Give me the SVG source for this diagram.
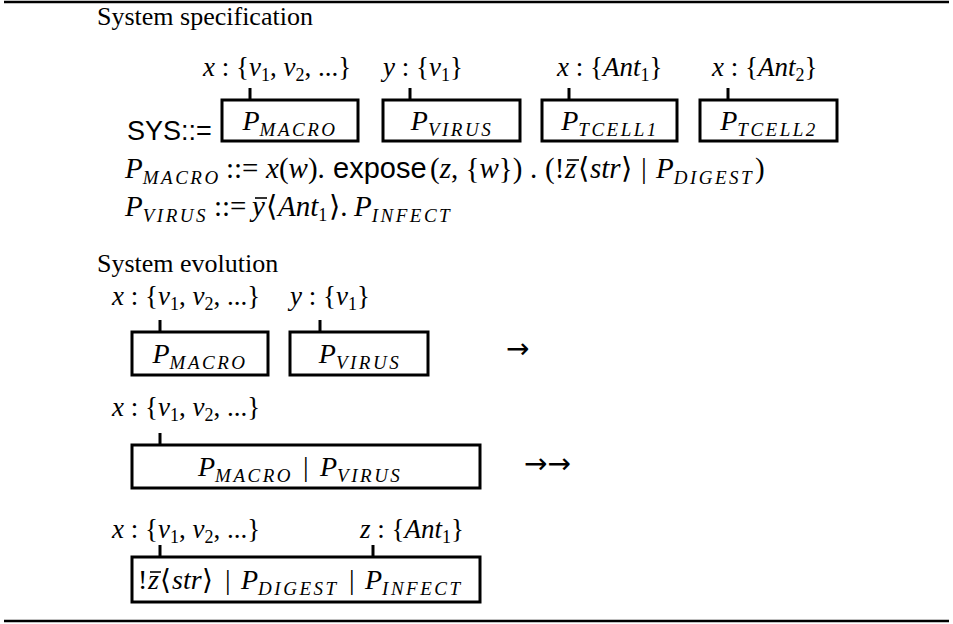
<svg xmlns="http://www.w3.org/2000/svg" width="953" height="624" viewBox="0 0 953 624">
<style>
text{font-family:"Liberation Serif","DejaVu Serif",serif;font-size:27px;fill:#000}
.h{font-size:26px}
.i{font-style:italic}
.e{font-size:28px}
.q{font-size:29px}
.sf{font-family:"Liberation Sans","DejaVu Sans",sans-serif}
.ss{font-style:italic;font-size:19px;letter-spacing:2.5px}
.n{font-size:18px}
.m{text-anchor:middle}
.ar{font-family:"DejaVu Sans",sans-serif;font-size:28px}
.box{fill:none;stroke:#000;stroke-width:3}
.tick{stroke:#000;stroke-width:3}
.rule{stroke:#000;stroke-width:2.5}
.ov{stroke:#000;stroke-width:1.6}
</style>
<rect width="953" height="624" fill="#fff"/>
<line class="rule" x1="4" y1="2" x2="949" y2="2"/>
<line class="rule" x1="4" y1="621" x2="949" y2="621"/>

<text class="h" x="97" y="25">System specification</text>
<text class="sf" x="127" y="140" font-size="25">SYS::=</text>

<g id="connectors">
<line class="tick" x1="250" y1="88" x2="250" y2="100"/>
<line class="tick" x1="410" y1="88" x2="410" y2="100"/>
<line class="tick" x1="569" y1="88" x2="569" y2="100"/>
<line class="tick" x1="728" y1="88" x2="728" y2="100"/>
<line class="tick" x1="160" y1="320" x2="160" y2="332"/>
<line class="tick" x1="320" y1="320" x2="320" y2="332"/>
<line class="tick" x1="160" y1="433" x2="160" y2="445"/>
<line class="tick" x1="160" y1="545" x2="160" y2="557"/>
<line class="tick" x1="373" y1="545" x2="373" y2="557"/>
</g>

<g id="spec-macro">
<text x="203" y="76"><tspan class="i">x</tspan> : {<tspan class="i">v</tspan><tspan class="n" dy="5">1</tspan><tspan dy="-5">, </tspan><tspan class="i">v</tspan><tspan class="n" dy="5">2</tspan><tspan dy="-5">, ...}</tspan></text>
<rect class="box" x="222" y="100" width="136" height="41"/>
<text class="e m" x="290" y="130"><tspan class="i">P</tspan><tspan class="ss" dy="6">MACRO</tspan></text>
</g>
<g id="spec-virus">
<text x="383" y="76"><tspan class="i">y</tspan> : {<tspan class="i">v</tspan><tspan class="n" dy="5">1</tspan><tspan dy="-5">}</tspan></text>
<rect class="box" x="383" y="100" width="137" height="41"/>
<text class="e m" x="452" y="130"><tspan class="i">P</tspan><tspan class="ss" dy="6">VIRUS</tspan></text>
</g>
<g id="spec-tcell1">
<text x="557" y="76"><tspan class="i">x</tspan> : {<tspan class="i">Ant</tspan><tspan class="n" dy="5">1</tspan><tspan dy="-5">}</tspan></text>
<rect class="box" x="542" y="100" width="135" height="41"/>
<text class="e m" x="610" y="130"><tspan class="i">P</tspan><tspan class="ss" dy="6">TCELL1</tspan></text>
</g>
<g id="spec-tcell2">
<text x="712" y="76"><tspan class="i">x</tspan> : {<tspan class="i">Ant</tspan><tspan class="n" dy="5">2</tspan><tspan dy="-5">}</tspan></text>
<rect class="box" x="700" y="100" width="137" height="41"/>
<text class="e m" x="769" y="130"><tspan class="i">P</tspan><tspan class="ss" dy="6">TCELL2</tspan></text>
</g>

<g id="eq-macro">
<text class="q" y="178"><tspan x="125" class="i">P</tspan><tspan class="ss" dy="6">MACRO</tspan><tspan x="226" dy="-6">::=</tspan><tspan x="266" class="i">x</tspan>(<tspan class="i">w</tspan>).<tspan x="333" class="sf">expose</tspan><tspan x="430">(<tspan class="i">z</tspan>, {<tspan class="i">w</tspan>})</tspan><tspan x="530">.</tspan><tspan x="545">(!</tspan><tspan x="565" class="i">z</tspan><tspan x="578">⟨</tspan><tspan x="590" class="i">str</tspan><tspan x="621">⟩</tspan><tspan x="641">|</tspan><tspan x="656" class="i">P</tspan><tspan class="ss" dy="6">DIGEST</tspan><tspan x="755" dy="-6">)</tspan></text>
<line class="ov" x1="567" y1="160" x2="579" y2="160"/>
</g>
<g id="eq-virus">
<text class="q" y="216"><tspan x="125" class="i">P</tspan><tspan class="ss" dy="6">VIRUS</tspan><tspan x="214" dy="-6">::=</tspan><tspan x="252" class="i">y</tspan><tspan x="266">⟨</tspan><tspan x="278" class="i">Ant</tspan><tspan class="n" dy="5">1</tspan><tspan x="329" dy="-5">⟩.</tspan><tspan x="354" class="i">P</tspan><tspan class="ss" dy="6">INFECT</tspan></text>
<line class="ov" x1="255" y1="198" x2="267" y2="198"/>
</g>

<text class="h" x="97" y="272">System evolution</text>

<g id="evo1-macro">
<text x="112" y="305"><tspan class="i">x</tspan> : {<tspan class="i">v</tspan><tspan class="n" dy="5">1</tspan><tspan dy="-5">, </tspan><tspan class="i">v</tspan><tspan class="n" dy="5">2</tspan><tspan dy="-5">, ...}</tspan></text>
<rect class="box" x="132" y="332" width="136" height="43"/>
<text class="e m" x="200" y="363"><tspan class="i">P</tspan><tspan class="ss" dy="6">MACRO</tspan></text>
</g>
<g id="evo1-virus">
<text x="290" y="305"><tspan class="i">y</tspan> : {<tspan class="i">v</tspan><tspan class="n" dy="5">1</tspan><tspan dy="-5">}</tspan></text>
<rect class="box" x="290" y="332" width="138" height="43"/>
<text class="e m" x="360" y="363"><tspan class="i">P</tspan><tspan class="ss" dy="6">VIRUS</tspan></text>
</g>
<text class="ar" x="506" y="358">→</text>

<g id="evo2-combined">
<text x="112" y="416"><tspan class="i">x</tspan> : {<tspan class="i">v</tspan><tspan class="n" dy="5">1</tspan><tspan dy="-5">, </tspan><tspan class="i">v</tspan><tspan class="n" dy="5">2</tspan><tspan dy="-5">, ...}</tspan></text>
<rect class="box" x="132" y="445" width="348" height="43"/>
<text class="e" y="476"><tspan x="198" class="i">P</tspan><tspan class="ss" dy="6">MACRO</tspan><tspan x="303" dy="-6">|</tspan><tspan x="320" class="i">P</tspan><tspan class="ss" dy="6">VIRUS</tspan></text>
</g>
<text class="ar" x="524" y="473">→→</text>

<g id="evo3-result">
<text x="112" y="538"><tspan class="i">x</tspan> : {<tspan class="i">v</tspan><tspan class="n" dy="5">1</tspan><tspan dy="-5">, </tspan><tspan class="i">v</tspan><tspan class="n" dy="5">2</tspan><tspan dy="-5">, ...}</tspan></text>
<text x="360" y="538"><tspan class="i">z</tspan> : {<tspan class="i">Ant</tspan><tspan class="n" dy="5">1</tspan><tspan dy="-5">}</tspan></text>
<rect class="box" x="132" y="557" width="348" height="45"/>
<text class="e" y="589"><tspan x="138">!</tspan><tspan x="148" class="i">z</tspan><tspan x="160">⟨</tspan><tspan x="172" class="i">str</tspan><tspan x="202">⟩</tspan><tspan x="225">|</tspan><tspan x="241" class="i">P</tspan><tspan class="ss" dy="6">DIGEST</tspan><tspan x="349" dy="-6">|</tspan><tspan x="365" class="i">P</tspan><tspan class="ss" dy="6">INFECT</tspan></text>
<line class="ov" x1="150" y1="572" x2="161" y2="572"/>
</g>
</svg>
